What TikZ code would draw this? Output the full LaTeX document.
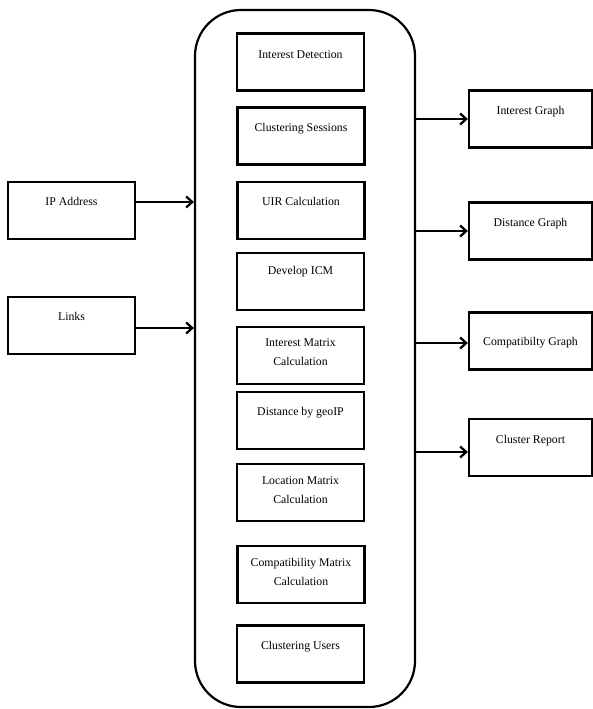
\documentclass[tikz,border=0pt]{standalone}
\usepackage{fontspec}
\setmainfont{Liberation Serif}
\usetikzlibrary{arrows.meta}
\begin{document}
\begin{tikzpicture}[x=1pt,y=-1pt,
  box/.style={draw, line width=2.3pt, minimum width=127pt, minimum height=57pt, inner sep=0pt},
  sbox/.style={draw, line width=2.3pt, minimum width=127pt, minimum height=57pt, inner sep=0pt},
  rbox/.style={draw, line width=2.3pt, minimum width=123pt, minimum height=57pt, inner sep=0pt},
  txt/.style={font=\fontsize{11.8}{19}\selectfont, align=center, inner sep=0pt},
  arr/.style={line width=2.3pt, -{Straight Barb[length=6pt,width=11pt,line width=2.3pt]}}]
\useasboundingbox (0,0) rectangle (593,709);
% main container
\node[draw, line width=2.2pt, rounded corners=46pt, minimum width=220pt, minimum height=697pt, inner sep=0pt] (main) at (305,358.5) {};
% inner steps
\node[box] (b1) at (300.5,62) {};
\node[box] (b2) at (301,136) {};
\node[box] (b3) at (301,210.5) {};
\node[box] (b4) at (300.5,281.5) {};
\node[box] (b5) at (300.5,355.5) {};
\node[box] (b6) at (300.5,420.5) {};
\node[box] (b7) at (300.5,492.5) {};
\node[box] (b8) at (301,574.5) {};
\node[box] (b9) at (300.5,654) {};
\node[txt] (t1) at ([yshift=-22pt]b1.north) {Interest Detection};
\node[txt] (t2) at ([yshift=-22pt]b2.north) {Clustering Sessions};
\node[txt] (t3) at ([yshift=-21pt]b3.north) {UIR Calculation};
\node[txt] (t4) at ([yshift=-20pt]b4.north) {Develop ICM};
\node[txt] (t5) at ([yshift=-26.5pt]b5.north) {Interest Matrix\\Calculation};
\node[txt] (t6) at ([yshift=-22pt]b6.north) {Distance by geoIP};
\node[txt] (t7) at ([yshift=-27pt]b7.north) {Location Matrix\\Calculation};
\node[txt] (t8) at ([yshift=-27pt]b8.north) {Compatibility Matrix\\Calculation};
\node[txt] (t9) at ([yshift=-22pt]b9.north) {Clustering Users};
% inputs
\node[sbox] (ip) at (71.5,210.5) {};
\node[sbox] (ln) at (71.5,325.5) {};
\node[txt] (tip) at ([yshift=-21pt]ip.north) {IP Address};
\node[txt] (tln) at ([yshift=-21pt]ln.north) {Links};
% outputs
\node[rbox] (ig) at (530.5,119) {};
\node[rbox] (dg) at (530.5,231) {};
\node[rbox] (cg) at (530.5,341) {};
\node[rbox] (cr) at (530.5,447.5) {};
\node[txt] (tig) at ([yshift=-22pt]ig.north) {Interest Graph};
\node[txt] (tdg) at ([yshift=-22pt]dg.north) {Distance Graph};
\node[txt] (tcg) at ([yshift=-31pt]cg.north) {Compatibilty Graph};
\node[txt] (tcr) at ([yshift=-23pt]cr.north) {Cluster Report};
% connectors
\draw[arr] ([yshift=8.5pt]ip.east) -- ([yshift=8.5pt]ip.east -| main.west);
\draw[arr] ([yshift=-2.5pt]ln.east) -- ([yshift=-2.5pt]ln.east -| main.west);
\draw[arr] (ig.west -| main.east) -- (ig.west);
\draw[arr] (dg.west -| main.east) -- (dg.west);
\draw[arr] ([yshift=-2pt]cg.west -| main.east) -- ([yshift=-2pt]cg.west);
\draw[arr] ([yshift=-4.5pt]cr.west -| main.east) -- ([yshift=-4.5pt]cr.west);
\end{tikzpicture}
\end{document}
